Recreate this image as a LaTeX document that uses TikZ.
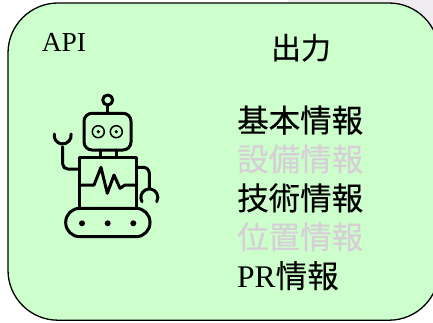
\documentclass[tikz,border=0pt]{standalone}
\usepackage{fontspec}
\setmainfont{Liberation Serif}
\newfontfamily\cjk[FakeBold=0.35]{Noto Sans CJK JP}
\usetikzlibrary{positioning}
\definecolor{panelgreen}{HTML}{CCFFCC}
\definecolor{fadedgray}{HTML}{D6CFD6}
\tikzset{
    label big/.style={inner sep=0pt, font=\fontsize{31.5}{33}\selectfont\cjk, minimum height=38.5pt, text height=24pt, text depth=4pt},
    robot line/.style={line width=3pt, line join=round, line cap=round},
}

\begin{document}
\begin{tikzpicture}[x=1pt,y=1pt]
    	\useasboundingbox (0,0) rectangle (433,322);
    	\fill[fadedgray!40] (288,322) rectangle (433,280);
    	\draw[fill=panelgreen, line width=1.3pt, rounded corners=50pt] (8,1.8) rectangle (439,319);

    	\node[inner sep=0pt] (api) at (64,280) {\fontsize{27.5}{29}\selectfont API};
    	\node[label big] (output) at (301,273) {\fontsize{30}{32}\selectfont 出力};

    	\node[label big, anchor=west] (basic) at (237,200) {基本情報};
    	\node[label big, below=0pt of basic.south west, anchor=north west, text=fadedgray] (equip) {設備情報};
    	\node[label big, below=0pt of equip.south west, anchor=north west] (tech) {技術情報};
    	\node[label big, below=0pt of tech.south west, anchor=north west, text=fadedgray] (place) {位置情報};
    	\node[label big, below=0pt of place.south west, anchor=north west] (pr) {{\rmfamily PR}情報};

    	% robot
    	\draw[robot line] (107.7,222) circle (5);
    	\draw[robot line] (107.7,217) -- (107.7,209.3);
    	\draw[robot line, rounded corners=8pt] (84,208.7) rectangle (131,172);
    	\draw[line width=1.5pt] (98.3,190.3) circle (6);
    	\draw[line width=1.5pt] (116.3,190.3) circle (6);
    	\fill (98.3,190.3) circle (1.8);
    	\fill (116.3,190.3) circle (1.8);
    	\draw[robot line] (100,172) -- (100,164.3);
    	\draw[robot line] (116,172) -- (116,164.3);
    	\draw[robot line] (79.3,164.3) rectangle (136.7,114);
    	\draw[robot line] (79.3,137) -- (94,137) -- (101,154.7) -- (107.3,128.7) -- (114,147) -- (120,133.7) -- (125,137) -- (136.7,137);
    	\draw[robot line, rounded corners=5pt] (79.3,153) -- (62.7,153) -- (62.7,175.3);
    	\draw[robot line] (54.3,188) arc (170:370:8.5);
    	\draw[robot line, rounded corners=6pt] (136.7,154.7) -- (149.3,154.7) -- (149.3,133.7);
    	\draw[robot line] (142,120.3) arc (-150:-390:8.5);
    	\draw[robot line, rounded corners=14pt] (65.7,113.7) rectangle (150,85.3);
    	\fill (82,98.7) circle (3);
    	\fill (107.7,98.7) circle (3);
    	\fill (133.3,98.7) circle (3);
\end{tikzpicture}
\end{document}
